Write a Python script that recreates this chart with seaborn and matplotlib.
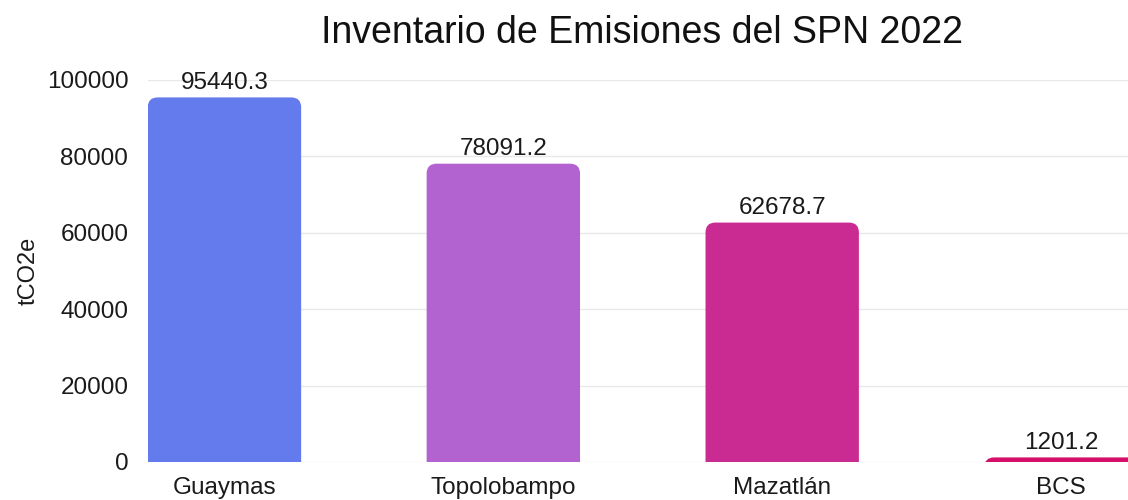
import pandas as pd
import numpy as np
import seaborn as sns
import matplotlib.pyplot as plt
from matplotlib.patches import FancyBboxPatch

puertos = ["Guaymas", "Topolobampo", "Mazatlán", "BCS"]
emisiones = [95440.3, 78091.2, 62678.7, 1201.2]
colores = ["#647BEE", "#B363D0", "#C92B93", "#D6106A"]
yticks = [0, 20000, 40000, 60000, 80000, 100000]

df = pd.DataFrame({"puerto": puertos, "tCO2e": emisiones})

sns.set_style("white")
plt.rcParams['font.family'] = ['Liberation Sans', 'DejaVu Sans']

fig = plt.figure(figsize=(11.28, 5), dpi=100)
ax = fig.add_axes([0.131, 0.076, 0.869, 0.764])

sns.barplot(x="puerto", y="tCO2e", data=df, hue="puerto", palette=colores,
            width=0.55, legend=False, ax=ax, zorder=2)

ax.set_ylim(0, 100000)
ax.set_xlim(-0.275, 3.24)

# esquinas redondeadas arriba
r_x = 0.035
r_y = 2600
for p, c in zip(list(ax.patches), colores):
    x, w, h = p.get_x(), p.get_width(), p.get_height()
    p.set_visible(False)
    fb = FancyBboxPatch((x, -r_y), w, h + r_y,
                        boxstyle=f"round,pad=0,rounding_size={r_x}",
                        mutation_aspect=r_y / r_x, facecolor=c,
                        edgecolor="none", zorder=2)
    ax.add_patch(fb)
    ax.text(x + w / 2, h + 1000, f"{h:.1f}", ha="center", va="bottom",
            fontsize=17.5, color="#1a1a1a", clip_on=False, zorder=3)

ax.set_yticks(yticks)
ax.set_yticklabels([str(t) for t in yticks])
ax.grid(axis="y", color="#e8e8e8", linewidth=1, zorder=0)
ax.set_axisbelow(True)
sns.despine(ax=ax, left=True, bottom=True)
ax.tick_params(axis="y", length=0, pad=14, labelsize=17.5, labelcolor="#1a1a1a")
ax.tick_params(axis="x", length=0, pad=11, labelsize=17.5, labelcolor="#1a1a1a")
ax.set_xlabel("")
ax.set_ylabel("tCO2e", fontsize=17, color="#1a1a1a", labelpad=5)
fig.suptitle("Inventario de Emisiones del SPN 2022", fontsize=27,
             color="#111111", x=0.5695, y=0.97, va="top")

plt.savefig("out.png", dpi=100)
